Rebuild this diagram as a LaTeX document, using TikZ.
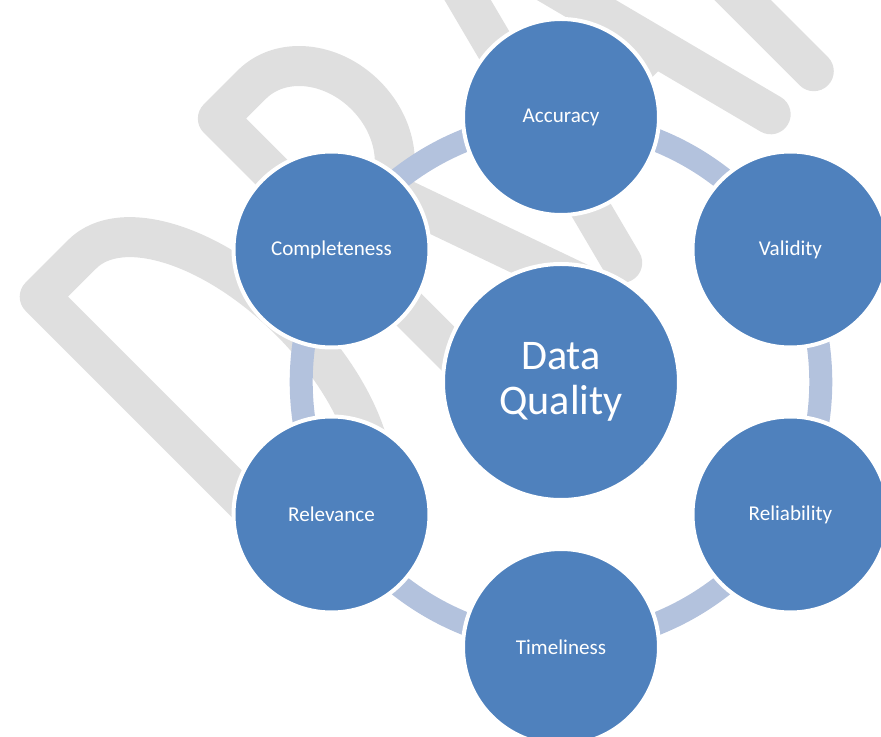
\documentclass[tikz,border=0pt]{standalone}
\usepackage{fontspec}
\setmainfont{Carlito}
\usetikzlibrary{backgrounds}

\definecolor{hubblue}{RGB}{79,129,189}
\definecolor{ringblue}{RGB}{179,194,221}
\definecolor{wmgray}{RGB}{223,223,223}

\begin{document}
\begin{tikzpicture}
    \tikzstyle{hub} = [circle, fill=hubblue, draw=white, line width=1mm, minimum size=5.9cm, align=center, text=white, font=\fontsize{30}{32}\selectfont]
    \tikzstyle{facet} = [circle, fill=hubblue, draw=white, line width=1mm, minimum size=4.9cm, text=white, font=\fontsize{15}{18}\selectfont]
    \tikzstyle{ring} = [draw=ringblue, line width=0.575cm]
    \tikzstyle{wm} = [draw=wmgray, line width=1cm, line join=round, line cap=round]

    \useasboundingbox (-14.025,-8.875) rectangle (8.0,9.55);

    % Nodes
    \node [hub] (dq) at (0,0) {Data\\Quality};
    \node [facet] (acc) at (90:6.625) {Accuracy};
    \node [facet] (val) at (30:6.625) {Validity};
    \node [facet] (rel) at (-30:6.625) {Reliability};
    \node [facet] (tim) at (-90:6.625) {Timeliness};
    \node [facet] (rlv) at (-150:6.625) {Relevance};
    \node [facet] (com) at (150:6.625) {Completeness};

    \begin{pgfonlayer}{background}
    % Watermark letters, drawn upright and turned onto the diagonal
    \begin{scope}[shift={(-6.175cm,-4.725cm)}, rotate=45, x=0.025cm, y=0.025cm]
        % D
        \draw [wm] (0,0) -- (0,388) -- (60,388) arc[start angle=90, end angle=-90, x radius=100, y radius=194] -- cycle;
        % R
        \draw [wm] (252,0) -- (252,388) -- (300,388) arc[start angle=90, end angle=-90, x radius=73, y radius=88] -- (252,212);
        \draw [wm] (322,212) -- (397,0);
        % A
        \draw [wm] (436,0) -- (541,405) -- (646,0);
        \draw [wm] (472,130) -- (610,130);
        % F
        \draw [wm] (707,0) -- (707,388) -- (880,388);
        \draw [wm] (707,200) -- (850,200);
    \end{scope}

    % Connections
    \path [ring] (acc.center) to[bend left=23] (val.center);
    \path [ring] (val.center) to[bend left=23] (rel.center);
    \path [ring] (rel.center) to[bend left=23] (tim.center);
    \path [ring] (tim.center) to[bend left=23] (rlv.center);
    \path [ring] (rlv.center) to[bend left=23] (com.center);
    \path [ring] (com.center) to[bend left=23] (acc.center);
    \end{pgfonlayer}
\end{tikzpicture}
\end{document}
